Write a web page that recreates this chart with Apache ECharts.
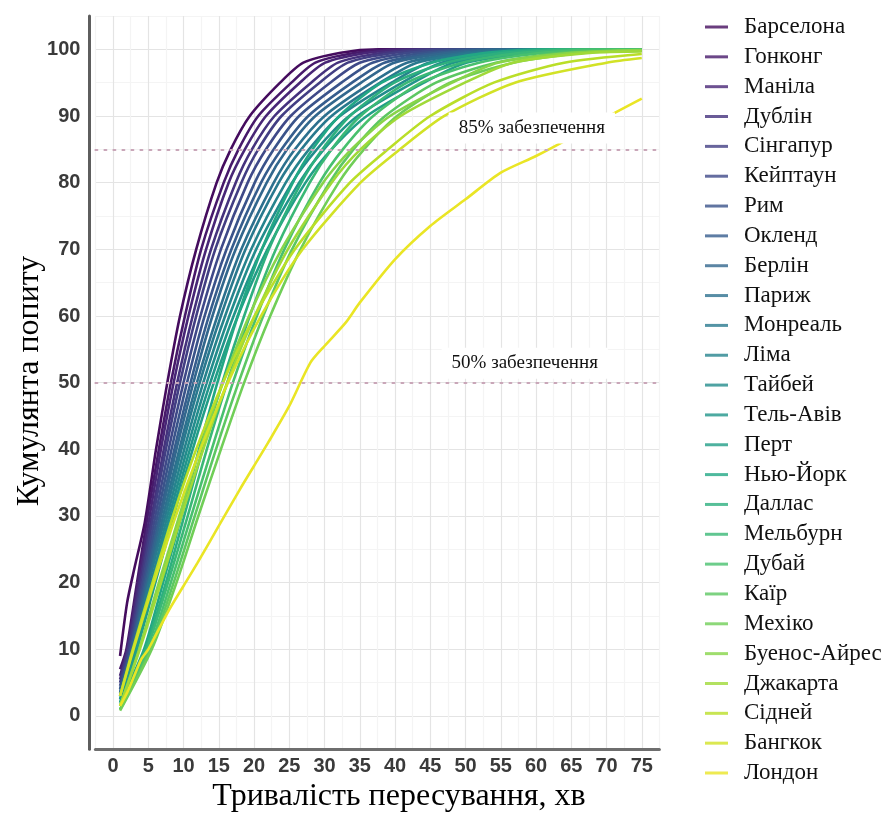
<!DOCTYPE html>
<html><head><meta charset="utf-8">
<script src="https://cdn.jsdelivr.net/npm/echarts@6/dist/echarts.min.js"></script>
<style>html,body{margin:0;padding:0;background:#fff}#c{width:884px;height:817px}</style>
</head><body><div id="c"></div><script>
// ---- data: [minutes, cumulative demand %] ----
const barcelona = [[1,9],[2,17],[3,22],[4.5,29],[6.1,40],[7.7,50],[9.5,60],[11.8,70],[14.7,80],[16.7,85],[19.4,90],[23.7,95],[27,98],[32.3,99.5],[37.7,100],[75,100]];
const hongKong = [[1,7],[1.9,10],[3.4,20],[4.9,30],[6.5,40],[8.2,50],[10.2,60],[12.5,70],[15.7,80],[17.8,85],[20.6,90],[25.3,95],[28.7,98],[34.4,99.5],[40.2,100],[75,100]];
const manila = [[1,6],[2,10],[3.6,20],[5.2,30],[6.8,40],[8.6,50],[10.7,60],[13.2,70],[16.4,80],[18.7,85],[21.7,90],[26.5,95],[30.1,98],[36.1,99.5],[42.1,100],[75,100]];
const dublin = [[1,5.5],[2.1,10],[3.8,20],[5.5,30],[7.2,40],[9.1,50],[11.3,60],[13.9,70],[17.4,80],[19.7,85],[22.9,90],[28.1,95],[31.9,98],[38.2,99.5],[44.6,100],[75,100]];
const singapore = [[1,5],[2.2,10],[4,20],[5.7,30],[7.5,40],[9.5,50],[11.8,60],[14.5,70],[18.2,80],[20.6,85],[23.9,90],[29.3,95],[33.3,98],[39.9,99.5],[46.6,100],[75,100]];
const capeTown = [[1,4.5],[2.4,10],[4.2,20],[6,30],[7.9,40],[10,50],[12.4,60],[15.3,70],[19.1,80],[21.7,85],[25.2,90],[30.8,95],[35,98],[42,99.5],[49,100],[75,100]];
const rome = [[1,4],[2.5,10],[4.4,20],[6.3,30],[8.3,40],[10.5,50],[13,60],[16.1,70],[20.1,80],[22.8,85],[26.4,90],[32.4,95],[36.8,98],[44.1,99.5],[51.5,100],[75,100]];
const auckland = [[1,4],[2.6,10],[4.6,20],[6.6,30],[8.7,40],[11,50],[13.6,60],[16.8,70],[21,80],[23.9,85],[27.7,90],[33.9,95],[38.5,98],[46.2,99.5],[53.9,100],[75,100]];
const berlin = [[1,3.5],[2.7,10],[4.8,20],[6.8,30],[9,40],[11.4,50],[14.1,60],[17.4,70],[21.8,80],[24.7,85],[28.7,90],[35.2,95],[39.9,98],[47.9,99.5],[55.9,100],[75,100]];
const paris = [[1,3.5],[2.8,10],[5,20],[7.1,30],[9.4,40],[11.9,50],[14.8,60],[18.2,70],[22.8,80],[25.8,85],[30,90],[36.7,95],[41.7,98],[50,99.5],[58.3,100],[75,100]];
const montreal = [[1,3],[2.9,10],[5.1,20],[7.4,30],[9.7,40],[12.3,50],[15.3,60],[18.8,70],[23.5,80],[26.7,85],[31,90],[37.9,95],[43.1,98],[51.7,99.5],[60.3,100],[75,100]];
const lima = [[1,3],[3,10],[5.4,20],[7.7,30],[10.1,40],[12.8,50],[15.9,60],[19.6,70],[24.5,80],[27.8,85],[32.2,90],[39.5,95],[44.8,98],[53.8,99.5],[62.7,100],[75,100]];
const taipei = [[1,2.5],[3.1,10],[5.6,20],[8,30],[10.5,40],[13.3,50],[16.5,60],[20.3,70],[25.4,80],[28.9,85],[33.5,90],[41,95],[46.6,98],[55.9,99.5],[65.2,100],[75,100]];
const telAviv = [[1,2.5],[3.2,10],[5.8,20],[8.3,30],[10.9,40],[13.8,50],[17.1,60],[21.1,70],[26.4,80],[29.9,85],[34.7,90],[42.6,95],[48.3,98],[58,99.5],[67.6,100],[75,100]];
const perth = [[1,2],[3.4,10],[6,20],[8.6,30],[11.3,40],[14.3,50],[17.7,60],[21.9,70],[27.3,80],[31,85],[36,90],[44.1,95],[50.1,98],[60.1,99.5],[70.1,100],[75,100]];
const newYork = [[1,2],[4.4,10],[7.1,20],[9.7,30],[12.2,40],[14.8,50],[17.7,60],[21.1,70],[25.5,80],[28.3,85],[32.1,90],[38.1,95],[45.2,98],[53.3,99.5],[62.2,100],[75,100]];
const dallas = [[1,1.5],[4.6,10],[7.5,20],[10.1,30],[12.7,40],[15.5,50],[18.6,60],[22.1,70],[26.7,80],[29.7,85],[33.6,90],[39.9,95],[47.3,98],[55.8,99.5],[65.1,100],[75,100]];
const melbourne = [[1,1.5],[4.8,10],[7.8,20],[10.6,30],[13.3,40],[16.2,50],[19.4,60],[23.1,70],[27.9,80],[31,85],[35.1,90],[41.7,95],[49.5,98],[58.3,99.5],[68,100],[75,100]];
const dubai = [[1,1],[5.1,10],[8.2,20],[11.1,30],[14,40],[17,50],[20.4,60],[24.3,70],[29.3,80],[32.6,85],[36.9,90],[43.7,95],[51.9,98],[61.2,99.5],[71.4,100],[75,100]];
const cairo = [[1,1],[5.3,10],[8.6,20],[11.6,30],[14.6,40],[17.8,50],[21.3,60],[25.4,70],[30.7,80],[34.1,85],[38.6,90],[45.8,95],[54.3,98],[64.1,99.5],[75,99.8]];
const mexico = [[1,0.8],[5.5,10],[9,20],[12.1,30],[15.3,40],[18.6,50],[22.3,60],[26.6,70],[32,80],[35.6,85],[40.3,90],[47.8,95],[56.8,98],[67,99.5],[75,99.8]];
const buenosAires = [[1,1.5],[3.7,10],[6.5,20],[9.4,30],[12.3,40],[15.6,50],[19.3,60],[23.9,70],[29.8,80],[33.8,85],[39.3,90],[48.1,95],[54.6,98],[65.5,99.5],[75,99.9]];
const jakarta = [[1,1.5],[3.8,10],[6.8,20],[9.7,30],[12.8,40],[16.2,50],[20.1,60],[24.8,70],[31,80],[35.1,85],[40.8,90],[49.9,95],[56.7,98],[68,99.5],[75,99.7]];
const sydney = [[1,3],[2.8,10],[5.6,20],[8.5,30],[11.8,40],[15.6,50],[20.1,60],[25.8,70],[33.6,80],[39,85],[45,90],[54,95],[64,98],[75,99.3]];
const bangkok = [[1,3],[2.9,10],[5.8,20],[8.9,30],[12.4,40],[16.3,50],[21,60],[26.9,70],[35.1,80],[40.7,85],[47,90],[57,95],[70,98],[75,98.7]];
const london = [[1,1.5],[2,3.5],[3,6],[4,8.5],[5,10],[6,12],[8,16],[10,19.5],[12,23],[15,28.5],[18,34],[20,37.5],[22,41],[25,46.5],[28,53],[30,55.5],[33,59],[35,62],[40,68.5],[45,73.5],[50,77.5],[55,81.5],[60,84],[65,86.8],[70,89.8],[75,92.6]];

const cityNames = ['Барселона','Гонконг','Маніла','Дублін','Сінгапур','Кейптаун','Рим','Окленд','Берлін','Париж','Монреаль','Ліма','Тайбей','Тель-Авів','Перт','Нью-Йорк','Даллас','Мельбурн','Дубай','Каїр','Мехіко','Буенос-Айрес','Джакарта','Сідней','Бангкок','Лондон'];
const curves = [barcelona,hongKong,manila,dublin,singapore,capeTown,rome,auckland,berlin,paris,montreal,lima,taipei,telAviv,perth,newYork,dallas,melbourne,dubai,cairo,mexico,buenosAires,jakarta,sydney,bangkok,london];

const xTickLabels = [0,5,10,15,20,25,30,35,40,45,50,55,60,65,70,75];
const yTickLabels = [0,10,20,30,40,50,60,70,80,90,100];
const supplyLevels = [85, 50];
const supplyLabels = ['85% забезпечення', '50% забезпечення'];
const xTitle = 'Тривалість пересування, хв';
const yTitle = 'Кумулянта попиту';

// ---- styling ----
const VIR = [[68,1,84],[72,36,117],[65,68,135],[53,95,141],[42,120,142],[33,145,140],[34,168,132],[68,191,112],[122,209,81],[189,223,38],[253,231,37]];
function viridis(t){
  const p = t*10, i = Math.min(9, Math.floor(p)), f = p - i;
  const a = VIR[i], b = VIR[i+1];
  return 'rgb(' + [0,1,2].map(k => Math.round(a[k] + (b[k]-a[k])*f)).join(',') + ')';
}
const colors = cityNames.map((_, i) => viridis(0.03 + i*0.94/(cityNames.length-1)));

const chart = echarts.init(document.getElementById('c'), null, {renderer:'canvas'});
const series = cityNames.map((name, i) => ({
  name, type:'line', data: curves[i], symbol:'none', showSymbol:false, smooth:0.25,
  lineStyle:{width:2.6, color:colors[i]}, itemStyle:{color:colors[i], opacity:0.8}, z: 3, silent:true
}));
series.push({
  type:'line', data:[], silent:true, z:1,
  markLine:{silent:true, symbol:'none', label:{show:false},
    lineStyle:{type:[2,7], color:'#c9a6b8', width:2, cap:'round'},
    data: supplyLevels.map(v => ({yAxis:v}))}
});

const labelFont = {fontFamily:'Liberation Sans', fontWeight:'bold', fontSize:20, color:'#3a3a3a'};
chart.setOption({
  animation:false,
  backgroundColor:'#fff',
  color: colors,
  grid:{left:95.4, right:224.6, top:16, bottom:67.7, containLabel:false},
  xAxis:{type:'value', min:-2.5, max:77.5, interval:2.5,
    axisLine:{show:true, onZero:false, lineStyle:{color:'#6e6e6e', width:3}},
    axisTick:{show:false},
    axisLabel:Object.assign({margin:7, formatter: v => xTickLabels.includes(v) ? String(v) : ''}, labelFont),
    splitLine:{show:true, lineStyle:{color:['#f4f4f4','#e4e4e4'], width:1.2}}
  },
  yAxis:{type:'value', min:-5, max:105, interval:5, offset:6,
    axisLine:{show:true, onZero:false, lineStyle:{color:'#5e5e5e', width:3}},
    axisTick:{show:false},
    axisLabel:Object.assign({margin:9, formatter: v => yTickLabels.includes(v) ? String(v) : ''}, labelFont),
    splitLine:{show:true, lineStyle:{color:['#f4f4f4','#e4e4e4'], width:1.2}}
  },
  legend:{type:'plain', orient:'vertical', left:700, top:10, itemGap:5.84,
    itemWidth:23, itemHeight:3, icon:'rect',
    data: cityNames,
    textStyle:{fontFamily:'Liberation Serif', fontSize:23, color:'#111', lineHeight:24, padding:[0,0,0,11]}
  },
  series
});

const p85 = chart.convertToPixel({gridIndex:0}, [59.4, 88.2]);
const p50 = chart.convertToPixel({gridIndex:0}, [58.4, 52.9]);
const annoStyle = {font:'19px "Liberation Serif"', fill:'#111', backgroundColor:'#fff', padding:[6,10], align:'center', verticalAlign:'middle'};
chart.setOption({
  graphic:[
    {type:'text', x:p85[0], y:p85[1], z:100, style:Object.assign({text:supplyLabels[0]}, annoStyle)},
    {type:'text', x:p50[0], y:p50[1], z:100, style:Object.assign({text:supplyLabels[1]}, annoStyle)},
    {type:'text', x:399, y:797, z:100, style:{text:xTitle, font:'32px "Liberation Serif"', fill:'#000', align:'center', verticalAlign:'middle'}},
    {type:'text', x:30, y:381, rotation:Math.PI/2, z:100, style:{text:yTitle, font:'32px "Liberation Serif"', fill:'#000', align:'center', verticalAlign:'middle'}}
  ]
});
</script></body></html>
